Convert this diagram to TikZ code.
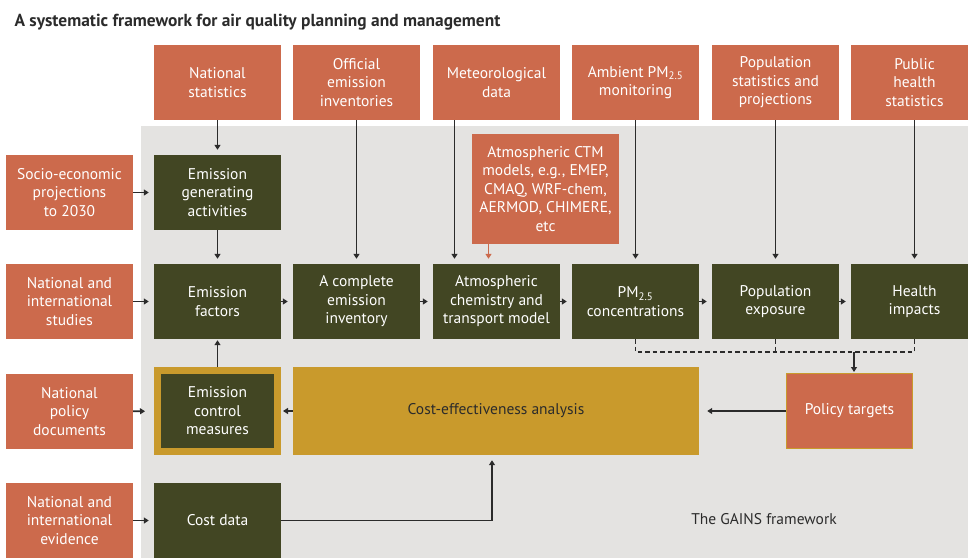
\documentclass[tikz,border=0pt]{standalone}
\usepackage{fontspec}
\setmainfont{PT Sans}
\usetikzlibrary{arrows.meta}
\definecolor{rust}{HTML}{CC6A4C}
\definecolor{olive}{HTML}{424623}
\definecolor{ochre}{HTML}{C99A2C}
\definecolor{panel}{HTML}{E4E3E1}
\definecolor{ink}{HTML}{2B2B2B}
\begin{document}
\begin{tikzpicture}[x=1pt,y=-1pt,
    box/.style={minimum width=127pt,minimum height=75pt,inner sep=2pt,align=center,
      text=white,font=\fontsize{15.5}{18.5}\selectfont},
    src/.style={box,fill=rust},
    stage/.style={box,fill=olive},
    arr/.style={-{Triangle[length=5pt,width=6pt]},line width=1.7pt,draw=ink,shorten >=5pt},
    dashline/.style={line width=1.7pt,draw=ink,dash pattern=on 4.5pt off 3pt}]
  \useasboundingbox (0,0) rectangle (968,558);
  % grey panel of the GAINS model
  \fill[panel] (141,126) rectangle (968,558);
  \node[anchor=base west,text=ink,font=\bfseries\fontsize{17.4}{20}\selectfont] (title) at (11,26)
    {A systematic framework for air quality planning and management};

  % data sources on top
  \node[src] (natstat) at (217.5,82.5) {National\\statistics};
  \node[src] (offinv) at (356.5,82.5) {Official\\emission\\inventories};
  \node[src] (meteo) at (496.5,82.5) {Meteorological\\data};
  \node[src] (ambpm) at (635.5,82.5) {Ambient PM\textsubscript{2.5}\\monitoring};
  \node[src] (popstat) at (775.5,82.5) {Population\\statistics and\\projections};
  \node[src] (pubhealth) at (914.5,82.5) {Public\\health\\statistics};

  % data sources on the left
  \node[src] (socio) at (69.5,192.5) {Socio-economic\\projections\\to 2030};
  \node[src] (studies) at (69.5,301.5) {National and\\international\\studies};
  \node[src] (poldocs) at (69.5,411.5) {National\\policy\\documents};
  \node[src] (evidence) at (69.5,520.5) {National and\\international\\evidence};

  % model chain
  \node[stage] (activ) at (217.5,192.5) {Emission\\generating\\activities};
  \node[stage] (factors) at (217.5,301.5) {Emission\\factors};
  \node[stage] (inventory) at (356.5,301.5) {A complete\\emission\\inventory};
  \node[stage] (chem) at (496.5,301.5) {Atmospheric\\chemistry and\\transport model};
  \node[stage] (conc) at (635.5,301.5) {PM\textsubscript{2.5}\\concentrations};
  \node[stage] (expo) at (775.5,301.5) {Population\\exposure};
  \node[stage] (impacts) at (914.5,301.5) {Health\\impacts};
  \node[stage] (costdata) at (217.5,520.5) {Cost data};
  \node[box,fill=olive,draw=ochre,line width=7pt,minimum width=120pt,minimum height=81pt]
    (control) at (217.5,411) {Emission\\control\\measures};

  \node[box,fill=rust,minimum width=147pt,minimum height=110pt] (ctm) at (545.5,189)
    {Atmospheric CTM\\models, e.g., EMEP,\\CMAQ, WRF-chem,\\AERMOD, CHIMERE,\\etc};
  \node[box,fill=ochre,text=ink,minimum width=406pt,minimum height=88pt] (cea) at (496,411)
    {Cost-effectiveness analysis};
  \node[box,fill=rust,draw=ochre,line width=1pt,minimum width=126pt,minimum height=75pt]
    (targets) at (849.5,411) {Policy targets};
  \node[text=ink,font=\fontsize{15.5}{18.5}\selectfont] (gains) at (764,519) {The GAINS framework};

  % inputs
  \draw[arr] (natstat) -- (activ);
  \draw[arr] (offinv) -- (inventory);
  \draw[arr] ([xshift=-42pt]meteo.south) -- ([xshift=-42pt]chem.north);
  \draw[arr] (ambpm) -- (conc);
  \draw[arr] (popstat) -- (expo);
  \draw[arr] (pubhealth) -- (impacts);
  \draw[arr,draw=rust] ([xshift=-57pt]ctm.south) -- ([xshift=-57pt]ctm.south |- chem.north);
  \draw[arr] (socio) -- (activ);
  \draw[arr] (studies) -- (factors);
  \draw[arr,shorten >=9pt] (poldocs) -- (control);
  \draw[arr] (evidence) -- (costdata);

  % chain
  \draw[arr] (activ) -- (factors);
  \draw[arr] (factors) -- (inventory);
  \draw[arr] (inventory) -- (chem);
  \draw[arr] (chem) -- (conc);
  \draw[arr] (conc) -- (expo);
  \draw[arr] (expo) -- (impacts);
  \draw[arr,shorten >=1pt] (control) -- (factors);
  \draw[arr,shorten >=2pt] (cea) -- (control);
  \draw[arr] (costdata.east) -| ([xshift=-4pt]cea.south);
  \draw[arr,shorten >=8pt] (targets) -- (cea);

  % feedback to the targets
  \coordinate (join) at (854,352);
  \draw[dashline] (conc.south) |- (join) -| (impacts.south);
  \draw[dashline] (expo.south) -- (expo.south |- join);
  \draw[arr,shorten >=1pt] (join) -- (join |- targets.north);
\end{tikzpicture}
\end{document}
